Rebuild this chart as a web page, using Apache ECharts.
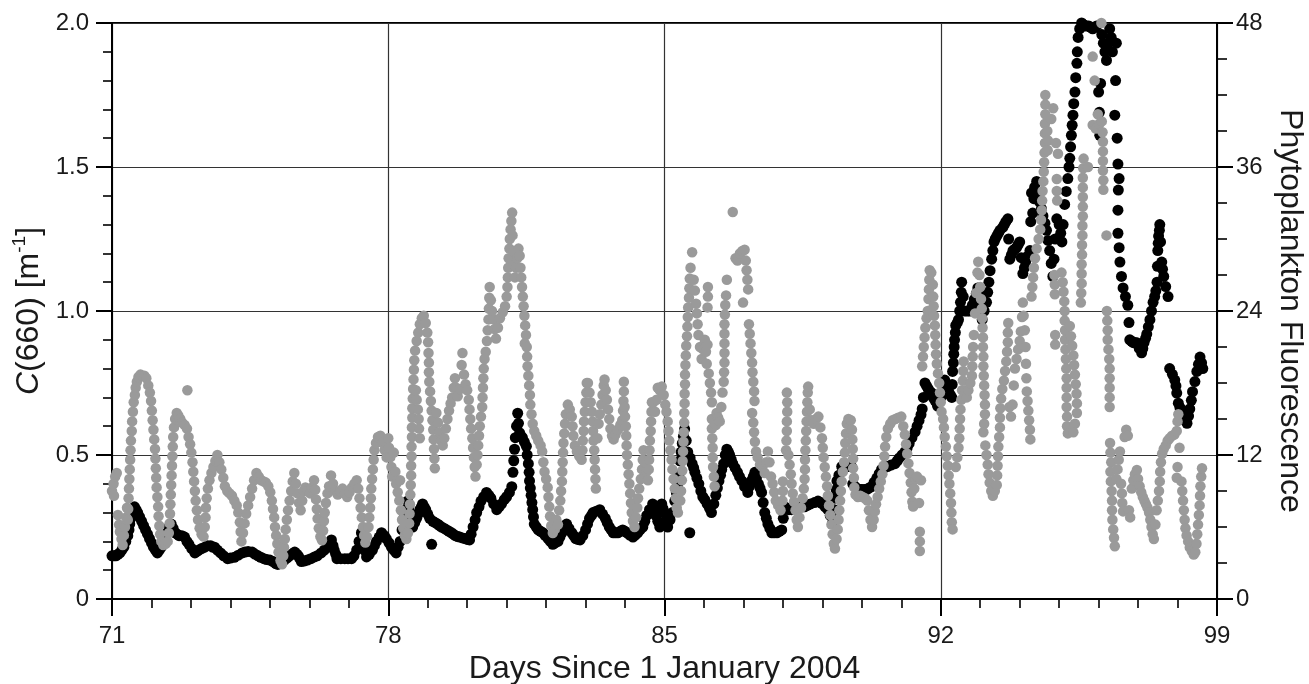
<!DOCTYPE html>
<html>
<head>
<meta charset="utf-8">
<script src="https://cdn.jsdelivr.net/npm/echarts@6/dist/echarts.min.js"></script>
<style>
html,body{margin:0;padding:0;background:#fff;}
#chart{width:1309px;height:684px;}
</style>
</head>
<body>
<div id="chart"></div>
<script>
// ---- tick settings ----
const xTicks = [71, 78, 85, 92, 99];
const leftTicks = [0, 0.5, 1.0, 1.5, 2.0];
const rightTicks = [0, 12, 24, 36, 48];

// ---- black dots: C(660) [m-1], left axis ----
const c660 = [
[71.0,.15],[71.05,.15],[71.1,.15],[71.15,.155],[71.2,.16],[71.25,.17],[71.3,.18],[71.35,.2],[71.4,.22],[71.43,.24],[71.45,.26],[71.48,.28],[71.5,.30],[71.54,.31],[71.57,.32],[71.61,.31],[71.65,.30],[71.7,.285],[71.75,.27],[71.8,.255],[71.85,.24],[71.9,.225],[71.95,.21],[72.0,.195],[72.05,.18],[72.1,.17],[72.15,.16],[72.2,.17],[72.25,.18],[72.3,.195],[72.35,.21],[72.4,.23],[72.45,.25],[72.5,.26],[72.55,.245],[72.6,.23],[72.65,.225],[72.7,.22],[72.77,.22],[72.84,.215],[72.9,.2],[72.95,.19],
[73.02,.175],[73.1,.16],[73.15,.165],[73.2,.17],[73.27,.175],[73.35,.18],[73.42,.185],[73.5,.185],[73.55,.18],[73.6,.18],[73.67,.17],[73.75,.16],[73.83,.15],[73.93,.14],[74.0,.142],[74.1,.145],[74.2,.152],[74.3,.16],[74.37,.163],[74.45,.165],[74.55,.163],[74.62,.156],[74.7,.15],[74.77,.145],[74.85,.14],[74.92,.137],
[75.0,.135],[75.08,.13],[75.15,.123],[75.2,.12],[75.28,.127],[75.37,.135],[75.44,.143],[75.5,.15],[75.57,.157],[75.63,.163],[75.68,.156],[75.72,.15],[75.76,.14],[75.8,.13],[75.88,.132],[75.95,.135],[76.04,.14],[76.13,.146],[76.2,.15],[76.3,.16],[76.38,.17],[76.45,.18],[76.51,.19],[76.56,.205],[76.6,.185],[76.63,.17],[76.67,.155],[76.7,.14],[76.8,.14],[76.9,.14],[76.98,.14],
[77.07,.14],[77.13,.15],[77.2,.17],[77.26,.2],[77.32,.23],[77.36,.21],[77.4,.19],[77.43,.165],[77.45,.146],[77.52,.155],[77.6,.17],[77.65,.185],[77.7,.2],[77.77,.215],[77.83,.23],[77.9,.22],[77.95,.21],[78.02,.195],[78.08,.18],[78.14,.17],[78.2,.16],[78.25,.18],[78.3,.2],[78.35,.24],[78.4,.28],[78.45,.31],[78.49,.34],[78.52,.32],[78.55,.3],[78.58,.275],[78.62,.25],[78.67,.265],[78.72,.28],[78.76,.295],[78.8,.31],[78.84,.32],[78.87,.33],[78.91,.32],[78.95,.31],
[79.0,.295],[79.05,.28],[79.1,.19],[79.13,.27],[79.19,.265],[79.25,.26],[79.3,.255],[79.35,.25],[79.42,.245],[79.48,.24],[79.54,.235],[79.6,.23],[79.65,.225],[79.7,.22],[79.76,.217],[79.81,.215],[79.88,.212],[79.95,.21],[80.0,.207],[80.06,.205],[80.1,.225],[80.15,.25],[80.2,.275],[80.24,.3],[80.3,.32],[80.35,.34],[80.42,.355],[80.49,.37],[80.55,.36],[80.6,.35],[80.67,.33],[80.75,.31],[80.81,.32],[80.87,.33],[80.94,.345],
[81.0,.355],[81.07,.37],[81.13,.39],[81.16,.44],[81.18,.48],[81.2,.52],[81.22,.56],[81.25,.6],[81.28,.645],[81.3,.61],[81.33,.577],[81.37,.565],[81.4,.56],[81.45,.545],[81.5,.53],[81.52,.5],[81.55,.47],[81.57,.44],[81.58,.41],[81.6,.385],[81.62,.36],[81.64,.335],[81.66,.31],[81.68,.285],[81.7,.26],[81.75,.25],[81.8,.24],[81.86,.235],[81.92,.23],[81.98,.22],
[82.05,.21],[82.11,.2],[82.17,.19],[82.23,.195],[82.3,.2],[82.35,.215],[82.4,.23],[82.46,.245],[82.52,.26],[82.58,.245],[82.65,.23],[82.7,.22],[82.75,.21],[82.8,.207],[82.86,.205],[82.93,.22],[83.0,.24],[83.05,.26],[83.1,.28],[83.15,.29],[83.19,.3],[83.27,.305],[83.36,.31],[83.43,.295],[83.5,.28],[83.55,.265],[83.6,.25],[83.65,.24],[83.7,.23],[83.76,.23],[83.82,.23],[83.88,.235],[83.94,.24],
[84.0,.235],[84.05,.23],[84.12,.222],[84.2,.215],[84.26,.222],[84.32,.23],[84.38,.24],[84.45,.25],[84.5,.27],[84.55,.29],[84.62,.31],[84.7,.33],[84.74,.31],[84.78,.29],[84.83,.27],[84.88,.25],[84.93,.33],[84.96,.315],[85.0,.3],[85.04,.275],[85.08,.25],[85.14,.275],[85.2,.3],[85.26,.34],[85.3,.37],[85.33,.39],[85.36,.43],[85.39,.48],[85.42,.51],[85.45,.54],[85.48,.565],[85.51,.59],[85.55,.55],[85.59,.51],[85.64,.23],[85.65,.49],[85.7,.47],[85.74,.455],[85.77,.44],[85.82,.42],[85.87,.4],[85.92,.375],[85.97,.355],
[86.02,.345],[86.08,.33],[86.14,.315],[86.19,.3],[86.25,.33],[86.3,.36],[86.34,.385],[86.38,.41],[86.42,.43],[86.45,.45],[86.5,.47],[86.54,.5],[86.58,.52],[86.62,.51],[86.65,.5],[86.69,.485],[86.73,.47],[86.79,.455],[86.85,.44],[86.9,.425],[86.96,.41],
[87.03,.39],[87.11,.37],[87.15,.39],[87.2,.41],[87.25,.425],[87.29,.44],[87.33,.42],[87.38,.4],[87.42,.385],[87.46,.37],[87.5,.335],[87.54,.3],[87.58,.28],[87.62,.26],[87.67,.245],[87.72,.23],[87.78,.23],[87.85,.23],[87.91,.235],[87.97,.24],
[88.01,.28],[88.05,.32],[88.1,.315],[88.15,.31],[88.22,.31],[88.3,.31],[88.36,.315],[88.42,.32],[88.48,.32],[88.55,.32],[88.62,.325],[88.7,.33],[88.8,.335],[88.89,.34],[88.95,.335],
[89.0,.33],[89.07,.32],[89.14,.31],[89.2,.29],[89.27,.27],[89.3,.31],[89.32,.35],[89.35,.38],[89.37,.41],[89.42,.43],[89.49,.46],[89.55,.46],[89.62,.46],[89.68,.46],[89.74,.46],[89.77,.4],[89.83,.39],[89.9,.38],[89.95,.38],
[90.0,.38],[90.06,.38],[90.12,.38],[90.18,.385],[90.25,.39],[90.31,.405],[90.38,.42],[90.44,.435],[90.5,.45],[90.57,.455],[90.65,.46],[90.74,.465],[90.84,.47],[90.9,.48],[90.95,.49],
[91.02,.5],[91.09,.51],[91.15,.525],[91.2,.54],[91.27,.56],[91.35,.58],[91.4,.6],[91.45,.62],[91.5,.64],[91.53,.66],[91.56,.7],[91.6,.75],[91.64,.74],[91.68,.73],[91.73,.72],[91.77,.715],[91.81,.7],[91.85,.69],[91.9,.68],[91.92,.67],[91.96,.685],
[92.0,.7],[92.05,.71],[92.08,.735],[92.1,.76],[92.15,.74],[92.2,.72],[92.24,.71],[92.28,.70],[92.29,.745],[92.3,.79],[92.32,.82],[92.33,.85],[92.34,.875],[92.35,.90],[92.37,.925],[92.38,.95],[92.42,.96],[92.45,.97],[92.48,1.0],[92.5,1.03],[92.52,1.065],[92.53,1.10],[92.57,1.05],[92.6,1.0],[92.67,1.0],[92.74,1.0],[92.8,1.02],[92.85,1.04],[92.9,1.06],[92.94,1.08],[92.97,1.055],
[93.0,1.03],[93.03,1.0],[93.05,.97],[93.1,1.0],[93.16,1.03],[93.19,1.065],[93.22,1.1],[93.25,1.14],[93.29,1.18],[93.32,1.21],[93.35,1.24],[93.38,1.25],[93.42,1.26],[93.46,1.27],[93.5,1.28],[93.57,1.29],[93.61,1.3],[93.65,1.31],[93.7,1.32],[93.72,1.25],[93.75,1.18],[93.79,1.195],[93.83,1.21],[93.88,1.215],[93.92,1.22],[93.96,1.23],
[94.0,1.24],[94.04,1.185],[94.08,1.13],[94.12,1.15],[94.15,1.17],[94.2,1.19],[94.26,1.21],[94.28,1.31],[94.3,1.41],[94.33,1.34],[94.36,1.39],[94.38,1.43],[94.43,1.45],[94.47,1.41],[94.5,1.38],[94.55,1.355],[94.59,1.33],[94.64,1.305],[94.68,1.28],[94.72,1.245],[94.76,1.21],[94.8,1.165],[94.84,1.12],[94.87,1.18],[94.9,1.25],[94.94,1.32],
[95.0,1.3],[95.04,1.27],[95.07,1.24],[95.1,1.3],[95.14,1.37],[95.18,1.415],[95.22,1.46],[95.25,1.5],[95.27,1.53],[95.29,1.57],[95.31,1.61],[95.33,1.645],[95.35,1.68],[95.37,1.72],[95.4,1.76],[95.42,1.81],[95.45,1.86],[95.46,1.9],[95.48,1.95],[95.52,1.98],[95.57,2.0],[95.61,1.995],[95.65,1.99],[95.7,1.99],[95.75,1.99],[95.8,1.985],[95.85,1.98],[95.9,1.985],[95.95,1.99],
[96.0,1.76],[96.02,1.69],[96.03,1.61],[96.05,1.79],[96.08,1.96],[96.12,1.93],[96.16,1.9],[96.2,1.87],[96.24,1.93],[96.28,1.98],[96.32,1.95],[96.35,1.9],[96.41,1.68],[96.43,1.8],[96.45,1.93],[96.47,1.6],[96.49,1.51],[96.52,1.46],[96.5,1.42],[96.49,1.35],[96.49,1.27],[96.52,1.22],[96.54,1.17],[96.58,1.12],[96.62,1.08],[96.68,1.05],[96.74,1.02],[96.77,.96],[96.79,.9],[96.84,.895],[96.88,.89],[96.93,.89],[96.97,.89],
[97.03,.87],[97.09,.855],[97.12,.87],[97.15,.89],[97.19,.905],[97.22,.92],[97.26,.945],[97.3,.97],[97.34,1.0],[97.38,1.03],[97.42,1.05],[97.45,1.07],[97.48,1.10],[97.49,1.155],[97.5,1.21],[97.51,1.235],[97.52,1.26],[97.54,1.28],[97.55,1.30],[97.57,1.24],[97.6,1.17],[97.62,1.145],[97.65,1.12],[97.7,1.085],[97.76,1.05],
[97.8,.80],[97.87,.78],[97.93,.76],[97.96,.74],[97.98,.715],[98.02,.68],[98.06,.665],[98.1,.645],[98.14,.63],[98.19,.62],[98.24,.61],[98.28,.635],[98.31,.66],[98.35,.69],[98.38,.72],[98.44,.755],[98.49,.79],[98.53,.815],[98.57,.84],[98.61,.82],[98.64,.80]
];

// ---- gray dots: Phytoplankton Fluorescence, right axis ----
const fluor = [
[71.0,9.0],[71.04,9.6],[71.05,8.6],[71.08,10.2],[71.12,10.5],
[71.15,7.0],[71.18,6.2],[71.2,5.6],[71.24,5.0],[71.27,4.5],[71.3,5.3],[71.33,6.0],[71.36,6.8],[71.38,7.6],[71.4,6.6],[71.41,7.5],
[71.42,8.4],[71.43,9.2],[71.44,10.0],[71.45,10.8],[71.46,11.6],[71.47,12.4],[71.48,13.2],[71.5,14.0],[71.51,14.8],[71.53,15.6],[71.55,16.4],[71.58,17.0],[71.6,17.6],[71.63,18.1],[71.67,18.5],[71.72,18.7],[71.77,18.6],[71.82,18.6],[71.87,18.4],[71.92,17.8],[71.96,17.2],[71.99,16.5],
[72.01,15.7],[72.03,14.9],[72.05,14.1],[72.07,13.3],[72.09,12.5],[72.1,11.7],[72.11,10.9],[72.12,10.1],[72.13,9.3],[72.15,8.5],[72.17,7.7],[72.18,6.9],[72.2,6.1],[72.22,5.4],[72.25,4.8],[72.3,4.5],[72.36,4.6],[72.41,4.8],
[72.44,5.5],[72.46,6.3],[72.47,7.1],[72.48,7.9],[72.49,8.7],[72.5,9.5],[72.51,10.3],[72.52,11.1],[72.53,11.9],[72.54,12.7],[72.55,13.5],[72.57,14.3],[72.6,15.0],[72.64,15.5],[72.68,15.3],[72.73,15.0],[72.78,14.7],[72.84,14.5],[72.9,14.2],[72.91,17.4],
[72.94,13.5],[72.98,12.9],[73.01,12.2],[73.04,11.4],[73.06,10.6],[73.08,9.8],[73.1,9.0],[73.12,8.2],[73.15,7.4],[73.18,6.6],[73.22,5.9],[73.27,5.4],[73.32,5.2],
[73.35,6.0],[73.37,6.8],[73.38,7.6],[73.4,8.4],[73.43,9.2],[73.47,9.9],[73.52,10.5],[73.57,11.0],[73.62,11.5],[73.67,12.0],[73.72,11.4],[73.77,10.8],[73.82,10.1],[73.86,9.4],
[73.92,9.0],[73.98,8.8],[74.04,8.6],[74.1,8.2],[74.16,7.8],[74.2,7.2],[74.24,6.4],[74.26,5.6],[74.28,4.8],
[74.32,5.5],[74.36,6.3],[74.4,7.1],[74.45,7.8],[74.5,8.5],[74.55,9.2],[74.6,9.9],[74.66,10.5],[74.72,10.2],[74.78,9.9],[74.84,9.8],[74.9,9.7],[74.96,9.4],[75.01,8.9],[75.05,8.2],[75.08,7.5],[75.11,6.8],[75.13,6.0],[75.16,5.3],[75.19,4.6],[75.22,3.9],[75.27,3.2],[75.31,2.9],[75.34,3.6],[75.36,4.3],[75.38,5.0],[75.4,5.8],[75.43,6.6],[75.46,7.4],[75.5,8.2],[75.54,9.0],[75.58,9.8],[75.62,10.5],
[75.66,9.6],[75.7,8.8],[75.74,8.0],[75.78,7.4],[75.82,8.2],[75.86,9.0],[75.9,9.3],[75.96,9.0],[76.02,8.8],[76.07,9.3],[76.12,9.9],
[76.15,9.1],[76.17,8.3],[76.19,7.5],[76.21,6.7],[76.24,5.9],[76.28,5.2],[76.32,4.9],
[76.35,5.7],[76.37,6.5],[76.39,7.2],[76.42,8.0],[76.46,8.8],[76.5,9.4],[76.55,10.3],[76.6,9.6],[76.66,9.0],[76.72,8.7],[76.78,9.0],[76.84,9.2],[76.9,8.8],[76.96,8.5],[77.02,8.9],[77.08,9.3],[77.14,9.6],[77.2,9.9],
[77.24,9.2],[77.27,8.4],[77.3,7.6],[77.33,6.8],[77.36,6.0],[77.39,5.3],[77.42,4.7],[77.46,5.2],
[77.5,6.0],[77.52,6.8],[77.54,7.6],[77.56,8.4],[77.57,9.2],[77.59,10.0],[77.61,10.8],[77.63,11.6],[77.65,12.4],[77.69,13.0],[77.74,13.5],[77.8,13.6],[77.86,13.0],[77.91,12.4],[77.96,11.8],
[78.0,13.4],[78.02,12.6],[78.05,11.8],[78.08,11.0],[78.1,10.2],[78.14,12.2],[78.18,10.6],[78.2,9.6],[78.24,8.9],[78.28,8.2],[78.3,9.9],[78.32,7.4],[78.35,6.6],[78.38,5.9],[78.42,5.3],[78.46,5.0],[78.5,5.5],
[78.53,6.3],[78.54,7.1],[78.55,7.9],[78.56,8.7],[78.57,9.5],[78.58,10.3],[78.58,11.1],[78.59,11.9],[78.59,12.7],[78.6,13.5],[78.6,14.3],[78.61,15.1],[78.61,15.9],[78.62,16.7],[78.63,17.5],[78.64,18.3],[78.65,19.1],[78.66,19.9],[78.68,20.7],[78.72,21.5],[78.76,22.2],[78.8,22.9],[78.85,23.4],[78.9,23.6],[78.95,23.0],[78.99,22.2],
[78.7,17.4],[78.72,16.6],[78.75,15.8],[78.77,15.0],[78.78,14.2],[78.8,13.4],
[79.01,21.4],[79.02,20.5],[79.03,19.7],[79.03,18.9],[79.04,18.1],[79.06,17.3],[79.08,16.5],[79.1,15.7],[79.12,14.9],[79.14,14.1],[79.15,13.3],[79.16,12.5],[79.17,11.7],[79.18,10.9],
[79.22,15.5],[79.26,14.7],[79.3,13.9],[79.34,13.2],[79.38,12.8],[79.42,13.4],[79.46,14.2],[79.5,15.0],[79.54,15.7],[79.58,16.3],[79.62,16.8],[79.66,17.6],[79.69,18.4],[79.72,17.6],[79.76,16.9],[79.82,17.5],[79.86,19.5],[79.88,20.5],[79.92,18.7],[79.96,17.9],[80.0,17.4],
[80.04,16.6],[80.06,15.8],[80.08,15.0],[80.1,14.2],[80.13,13.4],[80.15,12.6],[80.17,11.8],[80.19,11.0],[80.21,10.2],
[80.24,11.2],[80.26,12.0],[80.28,12.8],[80.3,13.6],[80.32,14.4],[80.35,15.2],[80.38,16.0],[80.39,16.8],[80.4,17.6],[80.41,18.4],[80.42,19.2],[80.44,20.0],[80.47,20.6],[80.5,21.5],[80.52,22.4],[80.54,23.3],[80.55,24.2],[80.56,25.1],[80.57,26.0],[80.6,24.9],[80.63,24.0],[80.67,23.3],[80.7,22.5],[80.73,21.7],[80.78,22.6],[80.83,23.4],[80.9,23.9],[80.96,24.4],[81.0,25.2],[81.02,26.0],[81.03,26.8],[81.04,27.6],[81.05,28.4],[81.07,29.2],[81.08,30.0],[81.1,30.8],[81.12,31.5],[81.14,32.2],
[81.15,30.3],[81.17,29.0],[81.19,27.8],[81.21,26.8],[81.24,27.6],[81.27,28.4],[81.3,29.2],[81.33,28.6],[81.35,27.6],[81.37,26.8],[81.39,26.0],[81.41,25.2],[81.43,24.4],[81.45,23.6],[81.47,22.8],[81.49,22.0],[81.46,21.3],[81.51,21.0],[81.52,20.2],[81.53,19.4],[81.55,18.6],[81.57,17.8],[81.59,17.0],[81.6,16.2],[81.63,15.4],[81.66,14.6],[81.7,14.0],[81.75,13.6],[81.8,13.2],[81.86,12.8],[81.9,12.3],[81.93,11.4],[81.96,10.6],
[82.0,10.0],[82.04,9.3],[82.06,8.5],[82.08,7.7],[82.1,6.9],[82.13,6.1],[82.17,5.5],[82.22,5.8],[82.26,6.6],[82.3,6.2],[82.33,7.4],[82.36,8.2],[82.38,9.0],[82.4,9.8],[82.41,10.6],[82.42,11.4],[82.43,12.2],[82.44,13.0],[82.46,13.8],[82.48,14.6],[82.5,15.4],[82.55,16.2],[82.6,15.8],[82.65,15.2],[82.67,14.4],[82.69,13.6],[82.73,12.8],[82.78,12.3],[82.84,11.9],[82.9,11.6],[82.92,12.4],[82.93,13.2],[82.95,14.0],[82.96,14.8],[82.98,15.6],
[83.0,16.4],[83.02,17.2],[83.03,18.0],[83.06,18.0],[83.1,17.2],[83.13,16.4],[83.16,15.6],[83.18,14.8],[83.19,14.0],[83.2,13.2],[83.22,12.4],[83.23,11.6],[83.24,10.8],[83.25,10.0],[83.26,9.2],
[83.3,13.4],[83.33,14.6],[83.36,15.4],[83.4,16.2],[83.43,17.0],[83.46,17.8],[83.48,18.3],[83.51,17.4],[83.54,16.6],[83.57,15.8],[83.6,15.0],[83.63,14.2],[83.67,13.6],[83.71,13.3],[83.76,13.7],[83.82,14.1],[83.88,14.5],[83.93,14.9],[83.95,15.7],[83.96,16.5],[83.97,17.3],[83.97,18.1],[83.99,16.0],
[84.0,15.2],[84.02,14.4],[84.03,13.6],[84.04,12.8],[84.05,12.0],[84.07,11.2],[84.09,10.4],[84.11,9.6],[84.13,8.8],[84.15,8.0],[84.17,7.2],[84.2,6.5],[84.24,6.0],[84.28,6.8],[84.31,7.6],[84.33,8.4],[84.36,9.2],[84.4,10.0],[84.43,10.8],[84.45,11.6],[84.47,12.4],[84.5,11.4],[84.54,10.6],[84.58,9.9],[84.6,10.8],[84.61,11.6],[84.62,12.4],[84.63,13.2],[84.65,14.0],[84.66,14.8],[84.67,15.6],[84.68,16.4],[84.72,16.4],[84.76,15.6],[84.8,16.6],[84.83,17.6],[84.88,17.4],[84.93,17.7],
[84.98,17.0],[85.02,16.2],[85.05,15.6],[85.08,14.8],[85.1,14.0],[85.12,13.2],[85.15,12.4],[85.18,11.6],[85.2,10.8],[85.23,10.0],[85.26,9.2],[85.29,8.4],[85.31,7.6],[85.34,7.2],[85.4,8.2],[85.42,9.0],[85.44,9.9],[85.45,10.7],[85.46,11.5],[85.47,12.3],[85.48,13.1],[85.49,13.9],[85.5,14.7],[85.5,15.5],[85.51,16.3],[85.51,17.1],[85.52,17.9],[85.52,18.7],[85.53,19.5],[85.54,20.3],[85.55,21.1],[85.57,21.9],[85.58,22.7],[85.59,23.5],[85.6,24.3],[85.62,25.1],[85.63,25.9],[85.64,26.7],[85.66,27.6],[85.7,28.9],[85.74,26.6],[85.77,25.7],[85.8,24.6],[85.82,23.8],[85.84,22.9],[85.86,22.0],[85.9,21.0],[85.94,20.0],[85.98,20.8],
[86.02,21.6],[86.05,20.6],[86.07,19.6],[86.09,21.2],[86.09,24.3],[86.1,25.2],[86.1,26.0],[86.12,18.8],[86.15,18.0],[86.18,17.2],[86.2,16.4],[86.2,15.0],[86.2,14.2],[86.21,13.4],[86.22,12.6],[86.22,11.8],[86.23,11.0],[86.25,10.2],[86.27,9.4],[86.3,14.5],[86.32,15.5],[86.36,15.1],[86.4,14.8],[86.44,16.0],[86.47,17.2],[86.5,18.1],[86.51,18.9],[86.52,19.7],[86.52,20.5],[86.52,21.3],[86.52,22.1],[86.52,22.9],[86.53,23.7],[86.54,24.5],[86.56,25.3],[86.58,26.6],[86.73,32.25],[86.8,28.4],[86.85,28.2],[86.91,28.8],[86.97,29.0],[86.99,24.7],
[87.03,29.1],[87.06,28.2],[87.08,27.4],[87.1,26.6],[87.12,25.8],[87.14,22.9],[87.16,22.1],[87.18,21.3],[87.2,20.5],[87.22,19.7],[87.23,18.9],[87.25,18.1],[87.27,17.3],[87.28,16.5],[87.22,15.5],[87.25,14.7],[87.27,13.9],[87.29,13.1],[87.32,12.3],[87.36,11.8],[87.42,11.2],[87.48,11.0],[87.54,10.5],[87.58,11.4],[87.62,12.3],[87.66,11.4],[87.7,10.2],[87.74,9.6],[87.78,8.9],[87.82,8.2],[87.88,7.8],[87.94,7.4],[87.99,8.2],
[88.0,9.0],[88.0,9.8],[88.08,12.4],[88.09,13.2],[88.1,14.0],[88.1,14.8],[88.11,15.6],[88.11,16.4],[88.1,17.2],[88.14,12.0],[88.17,11.2],[88.2,10.4],[88.22,9.6],[88.25,8.8],[88.28,8.1],[88.32,7.4],[88.35,6.6],[88.38,6.0],[88.42,6.8],[88.46,7.6],[88.5,8.4],[88.53,9.2],[88.55,10.0],[88.56,10.8],[88.56,11.6],[88.57,12.4],[88.58,13.2],[88.59,14.0],[88.6,14.8],[88.61,15.6],[88.62,16.4],[88.63,17.2],[88.64,17.7],[88.68,15.8],[88.72,14.9],[88.78,14.6],[88.84,15.0],[88.9,15.2],[88.95,14.3],[88.99,13.4],
[89.01,12.6],[89.03,11.8],[89.06,11.0],[89.09,10.2],[89.12,9.4],[89.14,8.6],[89.17,7.8],[89.2,7.0],[89.23,6.2],[89.26,5.4],[89.29,4.6],[89.32,4.2],[89.36,5.0],[89.39,5.8],[89.41,6.6],[89.43,7.4],[89.45,8.2],[89.47,9.0],[89.49,9.8],[89.52,10.6],[89.55,11.4],[89.57,12.2],[89.58,13.0],[89.6,13.8],[89.62,14.6],[89.66,15.0],[89.72,14.9],[89.75,14.1],[89.76,13.3],[89.77,12.5],[89.78,11.7],[89.78,10.9],[89.8,10.1],[89.81,9.3],[89.84,8.7],[89.9,8.5],[89.96,8.6],
[90.02,8.5],[90.08,8.4],[90.14,8.2],[90.18,7.4],[90.22,6.6],[90.26,6.0],[90.3,6.6],[90.33,7.3],[90.36,7.9],[90.4,8.5],[90.44,9.2],[90.48,9.8],[90.52,10.4],[90.55,11.1],[90.57,11.9],[90.59,12.7],[90.62,13.5],[90.66,14.2],[90.72,14.6],[90.78,14.9],[90.85,15.0],[90.92,15.1],
[91.0,15.2],[91.05,14.4],[91.09,13.7],[91.12,12.9],[91.15,12.1],[91.18,11.3],[91.21,10.5],[91.24,9.7],[91.26,8.9],[91.28,8.1],[91.3,7.7],[91.33,9.2],[91.36,10.0],[91.4,10.2],[91.45,8.0],[91.47,5.6],[91.47,4.8],[91.47,4.0],[91.5,9.9],[91.53,19.4],[91.55,20.2],[91.57,21.0],[91.59,21.8],[91.61,22.6],[91.64,23.4],[91.67,24.0],[91.69,25.0],[91.7,25.8],[91.71,26.6],[91.72,27.4],[91.76,27.2],[91.8,26.2],[91.81,25.2],[91.82,24.4],[91.83,23.6],[91.85,22.8],[91.86,22.0],[91.87,21.2],[91.88,20.4],[91.9,19.6],[91.93,18.8],[91.96,18.0],[91.98,17.2],
[92.0,16.4],[92.02,15.6],[92.06,15.0],[92.08,14.3],[92.1,13.5],[92.13,12.7],[92.15,11.9],[92.18,11.1],[92.2,10.3],[92.22,9.6],[92.24,8.8],[92.26,8.0],[92.27,7.2],[92.28,6.4],[92.3,5.8],[92.38,11.0],[92.42,11.8],[92.45,12.6],[92.47,13.4],[92.48,14.2],[92.49,15.0],[92.5,15.8],[92.52,16.6],[92.54,17.4],[92.56,18.2],[92.57,19.0],[92.58,19.8],[92.62,17.4],[92.66,16.8],[92.7,17.4],[92.75,18.0],[92.79,18.6],[92.8,19.4],[92.81,20.2],[92.82,21.0],[92.84,22.0],[92.87,23.8],[92.9,25.5],[92.93,27.2],[92.95,28.1],[92.98,27.0],
[93.0,26.0],[93.02,25.0],[93.04,24.2],[93.05,23.4],[93.06,22.6],[93.07,21.8],[93.07,21.0],[93.08,20.2],[93.08,19.4],[93.09,18.6],[93.1,17.8],[93.11,17.0],[93.12,16.2],[93.12,15.4],[93.1,14.6],[93.08,13.9],[93.13,12.8],[93.16,12.0],[93.19,11.2],[93.21,10.4],[93.24,9.7],[93.28,9.0],[93.32,8.6],[93.37,9.0],[93.42,9.5],[93.43,10.3],[93.44,11.1],[93.45,11.9],[93.46,12.7],[93.48,13.5],[93.5,14.3],[93.5,15.1],[93.51,15.9],[93.53,16.7],[93.56,17.5],[93.6,18.2],[93.63,19.0],[93.66,19.8],[93.68,20.6],[93.7,21.4],[93.7,22.2],[93.71,23.0],[93.74,16.0],[93.78,15.2],[93.82,16.2],[93.85,17.8],[93.88,19.2],[93.92,20.0],[93.96,20.8],
[94.0,21.5],[94.03,22.3],[94.06,23.5],[94.08,24.7],[94.1,23.6],[94.13,22.4],[94.15,21.0],[94.16,19.6],[94.17,18.4],[94.18,17.3],[94.2,16.5],[94.22,15.7],[94.24,14.9],[94.26,14.1],[94.27,13.3],
[94.3,25.2],[94.32,26.0],[94.34,26.8],[94.36,27.6],[94.39,28.4],[94.43,29.2],[94.48,30.0],[94.52,30.8],[94.54,31.6],[94.56,32.4],[94.57,33.2],[94.58,34.0],[94.6,34.8],[94.61,35.6],[94.62,36.4],[94.63,37.2],[94.64,38.0],[94.64,38.8],[94.64,39.6],[94.65,40.4],[94.65,41.2],[94.65,42.0],[94.7,39.0],[94.72,38.2],[94.71,37.4],[94.8,40.0],[94.85,40.9],[94.92,38.0],[94.97,37.1],[94.94,35.0],[94.94,34.0],[94.95,33.2],
[94.88,27.0],[94.89,26.2],[94.89,25.4],[94.9,22.0],[94.9,21.2],[95.06,27.2],[95.09,26.4],[95.11,25.6],[95.13,24.8],[95.14,24.0],[95.14,23.2],[95.15,22.4],[95.15,21.6],[95.16,20.8],[95.17,20.0],[95.18,19.2],[95.19,18.4],[95.19,17.6],[95.19,16.8],[95.19,16.0],[95.2,15.2],[95.2,14.4],[95.22,13.8],[95.27,22.75],[95.3,21.9],[95.33,21.1],[95.36,20.3],[95.38,19.5],[95.4,18.7],[95.42,17.9],[95.44,17.1],[95.45,16.3],[95.45,15.5],[95.4,14.6],[95.36,13.9],
[95.55,24.7],[95.56,25.5],[95.57,26.3],[95.57,27.1],[95.57,27.9],[95.58,28.7],[95.58,29.5],[95.59,30.3],[95.59,31.1],[95.6,31.9],[95.6,32.7],[95.6,33.5],[95.6,34.3],[95.6,35.1],[95.61,35.9],[95.62,36.7],[95.73,36.0],
[95.85,45.2],[95.9,43.2],[95.85,39.5],[95.93,39.2],[95.98,40.4],[96.02,39.6],[96.07,48.0],[96.08,39.8],[96.1,38.9],[96.11,38.1],[96.11,37.3],[96.11,36.5],[96.11,35.7],[96.12,34.9],[96.12,34.1],[96.2,30.3],
[96.21,24.0],[96.22,23.2],[96.23,22.4],[96.23,21.6],[96.25,20.8],[96.27,20.0],[96.28,19.2],[96.28,18.4],[96.28,17.6],[96.28,16.8],[96.28,16.0],[96.29,13.0],[96.3,12.2],[96.32,11.4],[96.3,10.6],[96.31,9.8],[96.33,9.0],[96.34,8.2],[96.34,7.4],[96.35,6.6],[96.37,5.8],[96.39,5.1],[96.41,4.4],
[96.45,10.0],[96.48,10.8],[96.51,11.6],[96.54,12.3],[96.57,9.6],[96.59,8.8],[96.6,8.0],[96.62,7.3],[96.66,13.5],[96.7,14.1],[96.74,13.6],[96.77,7.4],[96.8,6.8],[96.84,9.2],[96.88,9.9],[96.92,10.4],[96.97,10.75],
[97.0,10.0],[97.04,9.4],[97.08,8.9],[97.12,8.5],[97.16,8.2],[97.2,7.9],[97.24,7.6],[97.28,7.2],[97.31,6.6],[97.34,6.0],[97.37,5.4],[97.4,5.0],[97.44,6.2],[97.47,7.4],[97.5,8.2],[97.53,9.0],[97.55,9.8],[97.56,10.6],[97.58,11.4],[97.61,12.1],[97.65,12.5],[97.7,12.8],[97.75,13.2],[97.8,13.4],[97.86,13.6],[97.92,13.7],[97.98,14.0],[97.98,10.1],
[98.0,14.8],[98.02,15.4],[98.05,12.6],[98.0,11.0],[98.1,9.8],[98.12,9.0],[98.14,8.2],[98.16,7.4],[98.18,6.6],[98.2,5.9],[98.23,5.3],[98.27,4.8],[98.31,4.3],[98.36,4.0],[98.41,3.7],[98.45,3.9],[98.48,4.6],[98.5,5.4],[98.52,6.2],[98.54,7.0],[98.56,7.8],[98.57,8.6],[98.58,9.4],[98.6,10.2],[98.62,10.9]
];

const FONT = '"Liberation Sans", Arial, Helvetica, sans-serif';
const TXT = '#1a1a1a';
const chart = echarts.init(document.getElementById('chart'), null, {renderer: 'canvas'});

const axisCommon = {
  axisLine: {show: true, lineStyle: {color: '#000', width: 2}},
  axisTick: {show: true, inside: false, lineStyle: {color: '#000', width: 2}},
  minorTick: {show: true, lineStyle: {color: '#000', width: 1.6}},
  minorSplitLine: {show: false},
  splitLine: {show: true, lineStyle: {color: '#333', width: 1.2}},
  axisLabel: {color: TXT, fontSize: 24, fontFamily: FONT}
};

chart.setOption({
  animation: false,
  backgroundColor: '#fff',
  grid: {left: 112, right: 92, top: 23, bottom: 85, containLabel: false, outerBoundsMode: 'none',
         show: true, borderColor: '#000', borderWidth: 2, backgroundColor: 'transparent'},
  xAxis: Object.assign({}, axisCommon, {
    type: 'value', min: xTicks[0], max: xTicks[xTicks.length - 1], interval: 7,
    axisTick: Object.assign({}, axisCommon.axisTick, {length: 17}),
    minorTick: Object.assign({}, axisCommon.minorTick, {splitNumber: 7, length: 9}),
    axisLabel: Object.assign({}, axisCommon.axisLabel, {margin: 25}),
    name: 'Days Since 1 January 2004', nameLocation: 'middle', nameGap: 50,
    nameTextStyle: {fontSize: 32, color: TXT, fontFamily: FONT}
  }),
  yAxis: [
    Object.assign({}, axisCommon, {
      type: 'value', position: 'left', min: leftTicks[0], max: leftTicks[leftTicks.length - 1], interval: 0.5,
      axisTick: Object.assign({}, axisCommon.axisTick, {length: 16}),
      minorTick: Object.assign({}, axisCommon.minorTick, {splitNumber: 5, length: 9}),
      axisLabel: Object.assign({}, axisCommon.axisLabel, {margin: 23, formatter: v => v === 0 ? '0' : v.toFixed(1)}),
      name: '{i|C}(660) [m{s|-1}]', nameLocation: 'middle', nameGap: 65, nameRotate: 90,
      nameTextStyle: {fontSize: 32, color: TXT, fontFamily: FONT,
        rich: {
          i: {fontStyle: 'italic', fontSize: 32, fontFamily: FONT, color: TXT},
          s: {fontSize: 19, fontFamily: FONT, color: TXT, verticalAlign: 'top', lineHeight: 36}
        }}
    }),
    Object.assign({}, axisCommon, {
      type: 'value', position: 'right', min: rightTicks[0], max: rightTicks[rightTicks.length - 1], interval: 12,
      splitLine: {show: false},
      axisTick: Object.assign({}, axisCommon.axisTick, {length: 16}),
      minorTick: Object.assign({}, axisCommon.minorTick, {splitNumber: 4, length: 10}),
      axisLabel: Object.assign({}, axisCommon.axisLabel, {margin: 19}),
      name: 'Phytoplankton Fluorescence', nameLocation: 'middle', nameGap: 55, nameRotate: -90,
      nameTextStyle: {fontSize: 32, color: TXT, fontFamily: FONT}
    })
  ],
  series: [
    {type: 'scatter', yAxisIndex: 0, data: c660, symbol: 'circle', symbolSize: 11,
     itemStyle: {color: '#000', opacity: 1}, emphasis: {disabled: true}, silent: true, z: 2},
    {type: 'scatter', yAxisIndex: 1, data: fluor, symbol: 'circle', symbolSize: 10.5,
     itemStyle: {color: '#9a9a9a', opacity: 1}, emphasis: {disabled: true}, silent: true, z: 3}
  ]
});
</script>
</body>
</html>
